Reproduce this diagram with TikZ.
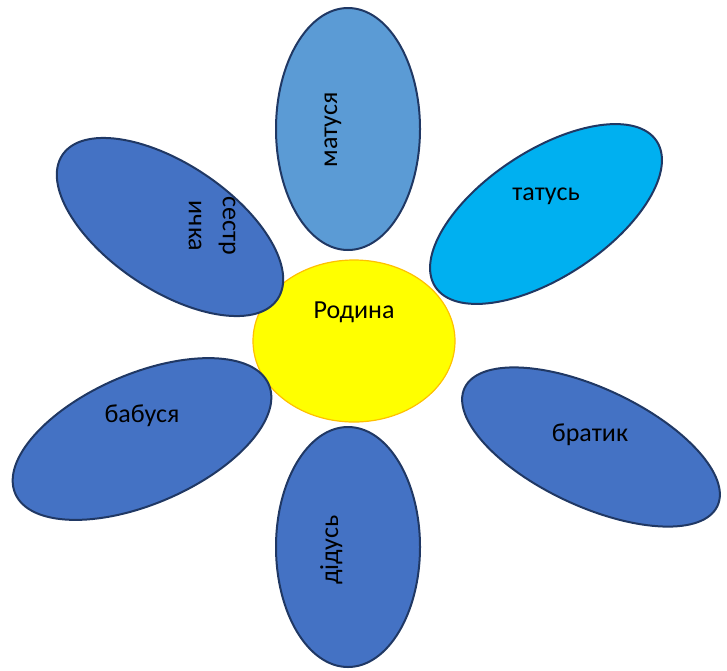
\documentclass[tikz,border=0pt]{standalone}
\usepackage{fontspec}
\setmainfont{Carlito}
\usetikzlibrary{shapes.geometric}
\definecolor{petalblue}{HTML}{4472C4}
\definecolor{momblue}{HTML}{5B9BD5}
\definecolor{dadblue}{HTML}{00B0F0}
\definecolor{petaledge}{HTML}{203864}
\definecolor{sunfill}{HTML}{FFFF00}
\definecolor{sunedge}{HTML}{FFC000}
\tikzset{
  petal/.style={ellipse, draw=petaledge, line width=2pt, fill=petalblue, inner sep=0pt},
  sun/.style={ellipse, draw=sunedge, line width=1.2pt, fill=sunfill, inner sep=0pt},
  lbl/.style={font=\fontsize{26}{34}\selectfont, text=black, inner sep=0pt}
}
\begin{document}
\begin{tikzpicture}[x=1pt,y=1pt]
\useasboundingbox (0,0) rectangle (727,-670);
% centre
\node[sun, minimum width=202pt, minimum height=162pt] (rodyna) at (354,-341) {};
% petals
\node[petal, fill=momblue, minimum width=144pt, minimum height=242pt] (mom) at (348,-129) {};
\node[petal, fill=dadblue, minimum width=265pt, minimum height=126pt, rotate=33.4] (dad) at (546,-214) {};
\node[petal, minimum width=259pt, minimum height=126pt, rotate=-33.8] (sis) at (170,-227) {};
\node[petal, minimum width=276pt, minimum height=130pt, rotate=23.3] (gma) at (142,-439) {};
\node[petal, minimum width=144pt, minimum height=240pt] (gpa) at (348,-547) {};
\node[petal, minimum width=279pt, minimum height=118pt, rotate=-25] (bro) at (591,-447) {};
% labels
\node[lbl, anchor=base] (trodyna) at (354,-318) {Родина};
\node[lbl, anchor=base] (tdad) at (546,-200) {татусь};
\node[lbl, anchor=base] (tgma) at (142,-422) {бабуся};
\node[lbl, anchor=base] (tbro) at (590,-441) {братик};
\node[lbl, anchor=base, rotate=90] (tmom) at (337,-130) {матуся};
\node[lbl, anchor=base, rotate=90] (tgpa) at (338,-550) {дідусь};
\node[lbl, align=center, rotate=-90] (tsis) at (212,-226) {сестр\\ичка};
\end{tikzpicture}
\end{document}
